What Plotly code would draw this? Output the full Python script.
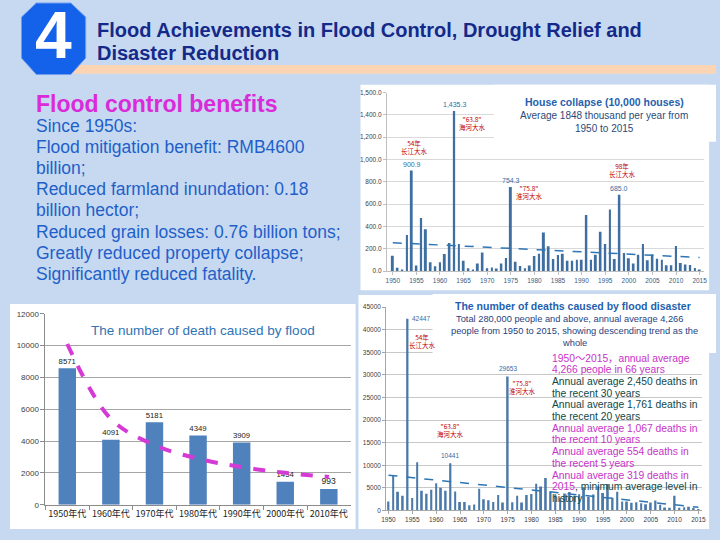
import plotly.graph_objects as go

# ---------------- data ----------------
decades = ["1950年代", "1960年代", "1970年代", "1980年代", "1990年代", "2000年代", "2010年代"]
decade_deaths = [8571, 4091, 5181, 4349, 3909, 1454, 993]
decade_trend = [10100, 5400, 3750, 2900, 2370, 2010, 1750]
decade_ticks = [0, 2000, 4000, 6000, 8000, 10000, 12000]

years = list(range(1950, 2016))
house_collapse = [138, 30, 15, 323, 900.9, 50, 476, 376, 79, 44,
                  79, 153, 253, 1435.3, 244, 94, 26, 15, 68, 168,
                  26, 32, 24, 68, 118, 754.3, 85, 47, 26, 50,
                  135, 156, 347, 224, 109, 144, 156, 94, 94, 103,
                  103, 503, 103, 147, 353, 244, 553, 109, 685.0, 162,
                  115, 68, 147, 244, 97, 150, 112, 103, 53, 53,
                  226, 74, 59, 56, 29, 9]
house_trend_years = [1950, 2015]
house_trend = [255, 122]
house_labeled_years = [1954, 1963, 1975, 1998]
house_ticks = [0, 200, 400, 600, 800, 1000, 1200, 1400, 1600]
house_ticktext = ["0.0", "200.0", "400.0", "600.0", "800.0", "1,000.0", "1,200.0", "1,400.0", "1,500.0"]

flood_deaths = [1960, 7620, 4140, 3270, 42447, 2760, 10670, 4355, 3700, 4570,
                6025, 5010, 4355, 10441, 4210, 1890, 1890, 1160, 1300, 4790,
                2470, 2250, 1890, 3410, 1740, 29653, 1815, 3270, 1740, 3410,
                3630, 5880, 5300, 7190, 4140, 3600, 2760, 3750, 4090, 3270,
                3590, 5110, 3010, 3500, 5340, 3850, 5840, 2800, 4150, 1960,
                1960, 1670, 1815, 1600, 1380, 1740, 2180, 1230, 650, 580,
                3266, 580, 725, 800, 510, 319]
death_trend_years = [1950, 2015]
death_trend = [7800, 700]
death_labeled_years = [1954, 1963, 1975]
death_ticks = [0, 5000, 10000, 15000, 20000, 25000, 30000, 35000, 40000, 45000]
year_ticks = list(range(1950, 2016, 5))

assert len(house_collapse) == len(years) == len(flood_deaths)

FONT = "Liberation Sans, Arial, Noto Sans CJK SC, sans-serif"
CJK = "Noto Sans CJK SC, Liberation Sans, sans-serif"
W, H = 720, 540


def px(x):
    return x / W


def py(y):
    return 1 - y / H


fig = go.Figure()

# decade chart
fig.add_trace(go.Bar(x=decades, y=decade_deaths, xaxis="x", yaxis="y",
                     marker=dict(color="#4f81bd", line=dict(width=0)), width=0.4,
                     text=[str(v) for v in decade_deaths], textposition="outside",
                     textfont=dict(size=8.5, color="#222222", family=FONT), cliponaxis=False))
fig.add_trace(go.Scatter(x=decades, y=decade_trend, xaxis="x", yaxis="y", mode="lines",
                         line=dict(color="#d63ad6", width=4, dash="dash", shape="spline")))

# house collapse chart
fig.add_trace(go.Bar(x=years, y=house_collapse, xaxis="x2", yaxis="y2",
                     marker=dict(color="#3f6fa0", line=dict(width=0)), width=0.42))
fig.add_trace(go.Scatter(x=house_trend_years, y=house_trend, xaxis="x2", yaxis="y2", mode="lines",
                         line=dict(color="#2e75b6", width=1.5, dash="dash")))

# deaths chart
fig.add_trace(go.Bar(x=years, y=flood_deaths, xaxis="x3", yaxis="y3",
                     marker=dict(color="#4a78a8", line=dict(width=0)), width=0.38))
fig.add_trace(go.Scatter(x=death_trend_years, y=death_trend, xaxis="x3", yaxis="y3", mode="lines",
                         line=dict(color="#2e75b6", width=1.5, dash="dash")))

shapes = []
# header stripe and octagon
shapes.append(dict(type="rect", xref="paper", yref="paper", x0=px(30), x1=px(720), y0=py(71), y1=py(62),
                   fillcolor="#fbd4b4", line=dict(width=0), layer="below"))
oct_pts = [(31.7, -1), (66.7, -1), (81.7, 13.3), (81.7, 55), (66.7, 71.7), (31.7, 71.7), (16.7, 55), (16.7, 13.3)]
path = "M " + " L ".join(f"{px(a):.5f},{py(b):.5f}" for a, b in oct_pts) + " Z"
shapes.append(dict(type="path", xref="paper", yref="paper", path=path,
                   fillcolor="#1562ea", line=dict(color="#6f9cf0", width=1), layer="below"))
# white panels
for (x0, y0, x1, y1) in [(5, 305, 355, 534), (360, 82, 713, 291), (358, 296, 713, 534)]:
    shapes.append(dict(type="rect", xref="paper", yref="paper", x0=px(x0), x1=px(x1), y0=py(y1), y1=py(y0),
                       fillcolor="white", line=dict(width=0), layer="below"))
# title boxes (cover gridlines)
for (x0, y0, x1, y1) in [(495, 82, 720, 140), (433, 295, 720, 355)]:
    shapes.append(dict(type="rect", xref="paper", yref="paper", x0=px(x0), x1=px(x1), y0=py(y1), y1=py(y0),
                       fillcolor="white", line=dict(width=0), layer="above"))

ann = []


def text(x, y, s, size, color, bold=False, anchor="left", family=FONT):
    ann.append(dict(x=px(x), y=py(y), xref="paper", yref="paper", text=(f"<b>{s}</b>" if bold else s),
                    showarrow=False, xanchor=anchor, yanchor="middle",
                    font=dict(size=size, color=color, family=family)))


# header
text(49.2, 32, "4", 66, "white", bold=True, anchor="center")
text(91, 26.5, "Flood Achievements in Flood Control, Drought Relief and", 20, "#14298a", bold=True)
text(91, 50, "Disaster Reduction", 20, "#14298a", bold=True)

# left text block
text(29, 101.5, "Flood control benefits", 23, "#d92bd9", bold=True)
left_lines = ["Since 1950s:", "Flood mitigation benefit: RMB4600", "billion;",
              "Reduced farmland inundation: 0.18", "billion hector;",
              "Reduced grain losses: 0.76 billion tons;", "Greatly reduced property collapse;",
              "Significantly reduced fatality."]
for i, s in enumerate(left_lines):
    text(29, 124 + i * 21.5, s, 17.5, "#1f5fc9")

# decade chart title
text(201, 332, "The number of death caused by flood", 13.5, "#2e74b5", anchor="center")

# house chart title
text(607, 100, "House collapse (10,000 houses)", 10.5, "#1f5fae", bold=True, anchor="center")
text(607, 113.5, "Average 1848 thousand per year from", 10, "#2a4a7a", anchor="center")
text(607, 127, "1950 to 2015", 10, "#2a4a7a", anchor="center")

# deaths chart title
text(575, 307, "The number of deaths caused by flood disaster", 10.5, "#1f5fae", bold=True, anchor="center")
text(572, 320.5, "Total 280,000 people and above, annual average 4,266", 9.3, "#1f3f80", anchor="center")
text(577, 332.5, "people from 1950 to 2015, showing descending trend as the", 9.3, "#1f3f80", anchor="center")
text(577, 345, "whole", 9.3, "#1f3f80", anchor="center")

MAG = "#c832c8"
TEAL = "#104848"
right_lines = [
    ("1950～2015，annual average", MAG),
    ("4,266 people in 66 years", MAG),
    ("Annual average 2,450 deaths in", TEAL),
    ("the recent 30 years", TEAL),
    ("Annual average 1,761 deaths in", TEAL),
    ("the recent 20 years", TEAL),
    ("Annual average 1,067 deaths in", MAG),
    ("the recent 10 years", MAG),
    ("Annual average 554 deaths in", MAG),
    ("the recent 5 years", MAG),
    ("Annual average 319 deaths in", MAG),
    (f"<span style='color:{MAG}'>2015</span>, minimum average level in", TEAL),
    ("history", TEAL),
]
for i, (s, c) in enumerate(right_lines):
    text(552, 360 + i * 11.9, s, 10.3, c, family=FONT)

# value labels on house chart
for yr in house_labeled_years:
    v = house_collapse[years.index(yr)]
    ann.append(dict(x=yr, y=v, xref="x2", yref="y2", text=f"{v:,.1f}", showarrow=False,
                    yanchor="bottom", yshift=1, font=dict(size=7, color="#2f6ea8", family=FONT)))
# flood event labels on house chart
for (x, y, s) in [(1954.5, 1110, "54年<br>长江大水"), (1966.8, 1330, "\"63.8\"<br>海河大水"),
                  (1978.9, 709, "\"75.8\"<br>淮河大水"), (1998.7, 909, "98年<br>长江大水")]:
    ann.append(dict(x=x, y=y, xref="x2", yref="y2", text=s, showarrow=False,
                    font=dict(size=6.5, color="#c00000", family=CJK)))

# value labels on deaths chart
for yr in death_labeled_years:
    v = flood_deaths[years.index(yr)]
    if yr == 1954:
        ann.append(dict(x=yr, y=v, xref="x3", yref="y3", text=str(v), showarrow=False,
                        xanchor="left", yanchor="middle", xshift=2,
                        font=dict(size=6.5, color="#2f6ea8", family=FONT)))
    else:
        ann.append(dict(x=yr, y=v, xref="x3", yref="y3", text=str(v), showarrow=False,
                        yanchor="bottom", yshift=2, font=dict(size=6.5, color="#2f6ea8", family=FONT)))
for (x, y, s) in [(1957.1, 37450, "54年<br>长江大水"), (1963.1, 17850, "\"63.8\"<br>海河大水"),
                  (1978.2, 27370, "\"75.8\"<br>淮河大水")]:
    ann.append(dict(x=x, y=y, xref="x3", yref="y3", text=s, showarrow=False,
                    font=dict(size=6.5, color="#c00000", family=CJK)))

axis_common = dict(showgrid=False, zeroline=False, fixedrange=True)

fig.update_layout(
    width=W, height=H, margin=dict(l=0, r=0, t=0, b=0), autosize=False,
    paper_bgcolor="#c6d9f1", plot_bgcolor="white", showlegend=False,
    font=dict(family=FONT),
    shapes=shapes, annotations=ann,
    xaxis=dict(domain=[px(41), px(350)], anchor="y", type="category", showline=True, linecolor="#8c8c8c",
               ticks="outside", tickson="boundaries", ticklen=4, tickcolor="#8c8c8c", tickangle=0,
               tickfont=dict(size=9, color="#222222", family=CJK), **axis_common),
    yaxis=dict(domain=[py(509.3), py(315)], anchor="x", range=[0, 12000], tickvals=decade_ticks,
               ticktext=[str(v) for v in decade_ticks],
               showgrid=True, gridcolor="#a6a6a6", gridwidth=1, showline=True, linecolor="#8c8c8c",
               ticks="outside", ticklen=4, tickcolor="#8c8c8c", zeroline=False, fixedrange=True,
               tickfont=dict(size=8, color="#404040", family=FONT)),
    xaxis2=dict(domain=[px(386.7), px(708)], anchor="y2", range=[1948.745, 2015.96], tickvals=year_ticks,
                showline=True, linecolor="#bfbfbf", ticks="outside", ticklen=3, tickcolor="#bfbfbf",
                tickfont=dict(size=6.5, color="#3a5a80", family=FONT), **axis_common),
    yaxis2=dict(domain=[py(271.7), py(90)], anchor="x2", range=[0, 1600], tickvals=house_ticks,
                ticktext=house_ticktext, showgrid=True, gridcolor="#d9d9d9", showline=True,
                linecolor="#bfbfbf", ticks="outside", ticklen=3, tickcolor="#bfbfbf", zeroline=False,
                fixedrange=True, tickfont=dict(size=6.5, color="#404040", family=FONT)),
    xaxis3=dict(domain=[px(386), px(706)], anchor="y3", range=[1949.52, 2015.78], tickvals=year_ticks,
                showline=True, linecolor="#a6a6a6", ticks="outside", ticklen=3, tickcolor="#a6a6a6",
                tickfont=dict(size=6.5, color="#3a3a3a", family=FONT), **axis_common),
    yaxis3=dict(domain=[py(515), py(308.3)], anchor="x3", range=[0, 45000], tickvals=death_ticks,
                ticktext=[str(v) for v in death_ticks],
                showgrid=True, gridcolor="#c8c8c8", showline=True, linecolor="#a6a6a6", ticks="outside",
                ticklen=3, tickcolor="#a6a6a6", zeroline=False, fixedrange=True,
                tickfont=dict(size=6.5, color="#404040", family=FONT)),
)

fig.write_html("out.html", config={"displayModeBar": False},
               post_script="document.body.style.margin='0px';document.body.style.overflow='hidden';")
